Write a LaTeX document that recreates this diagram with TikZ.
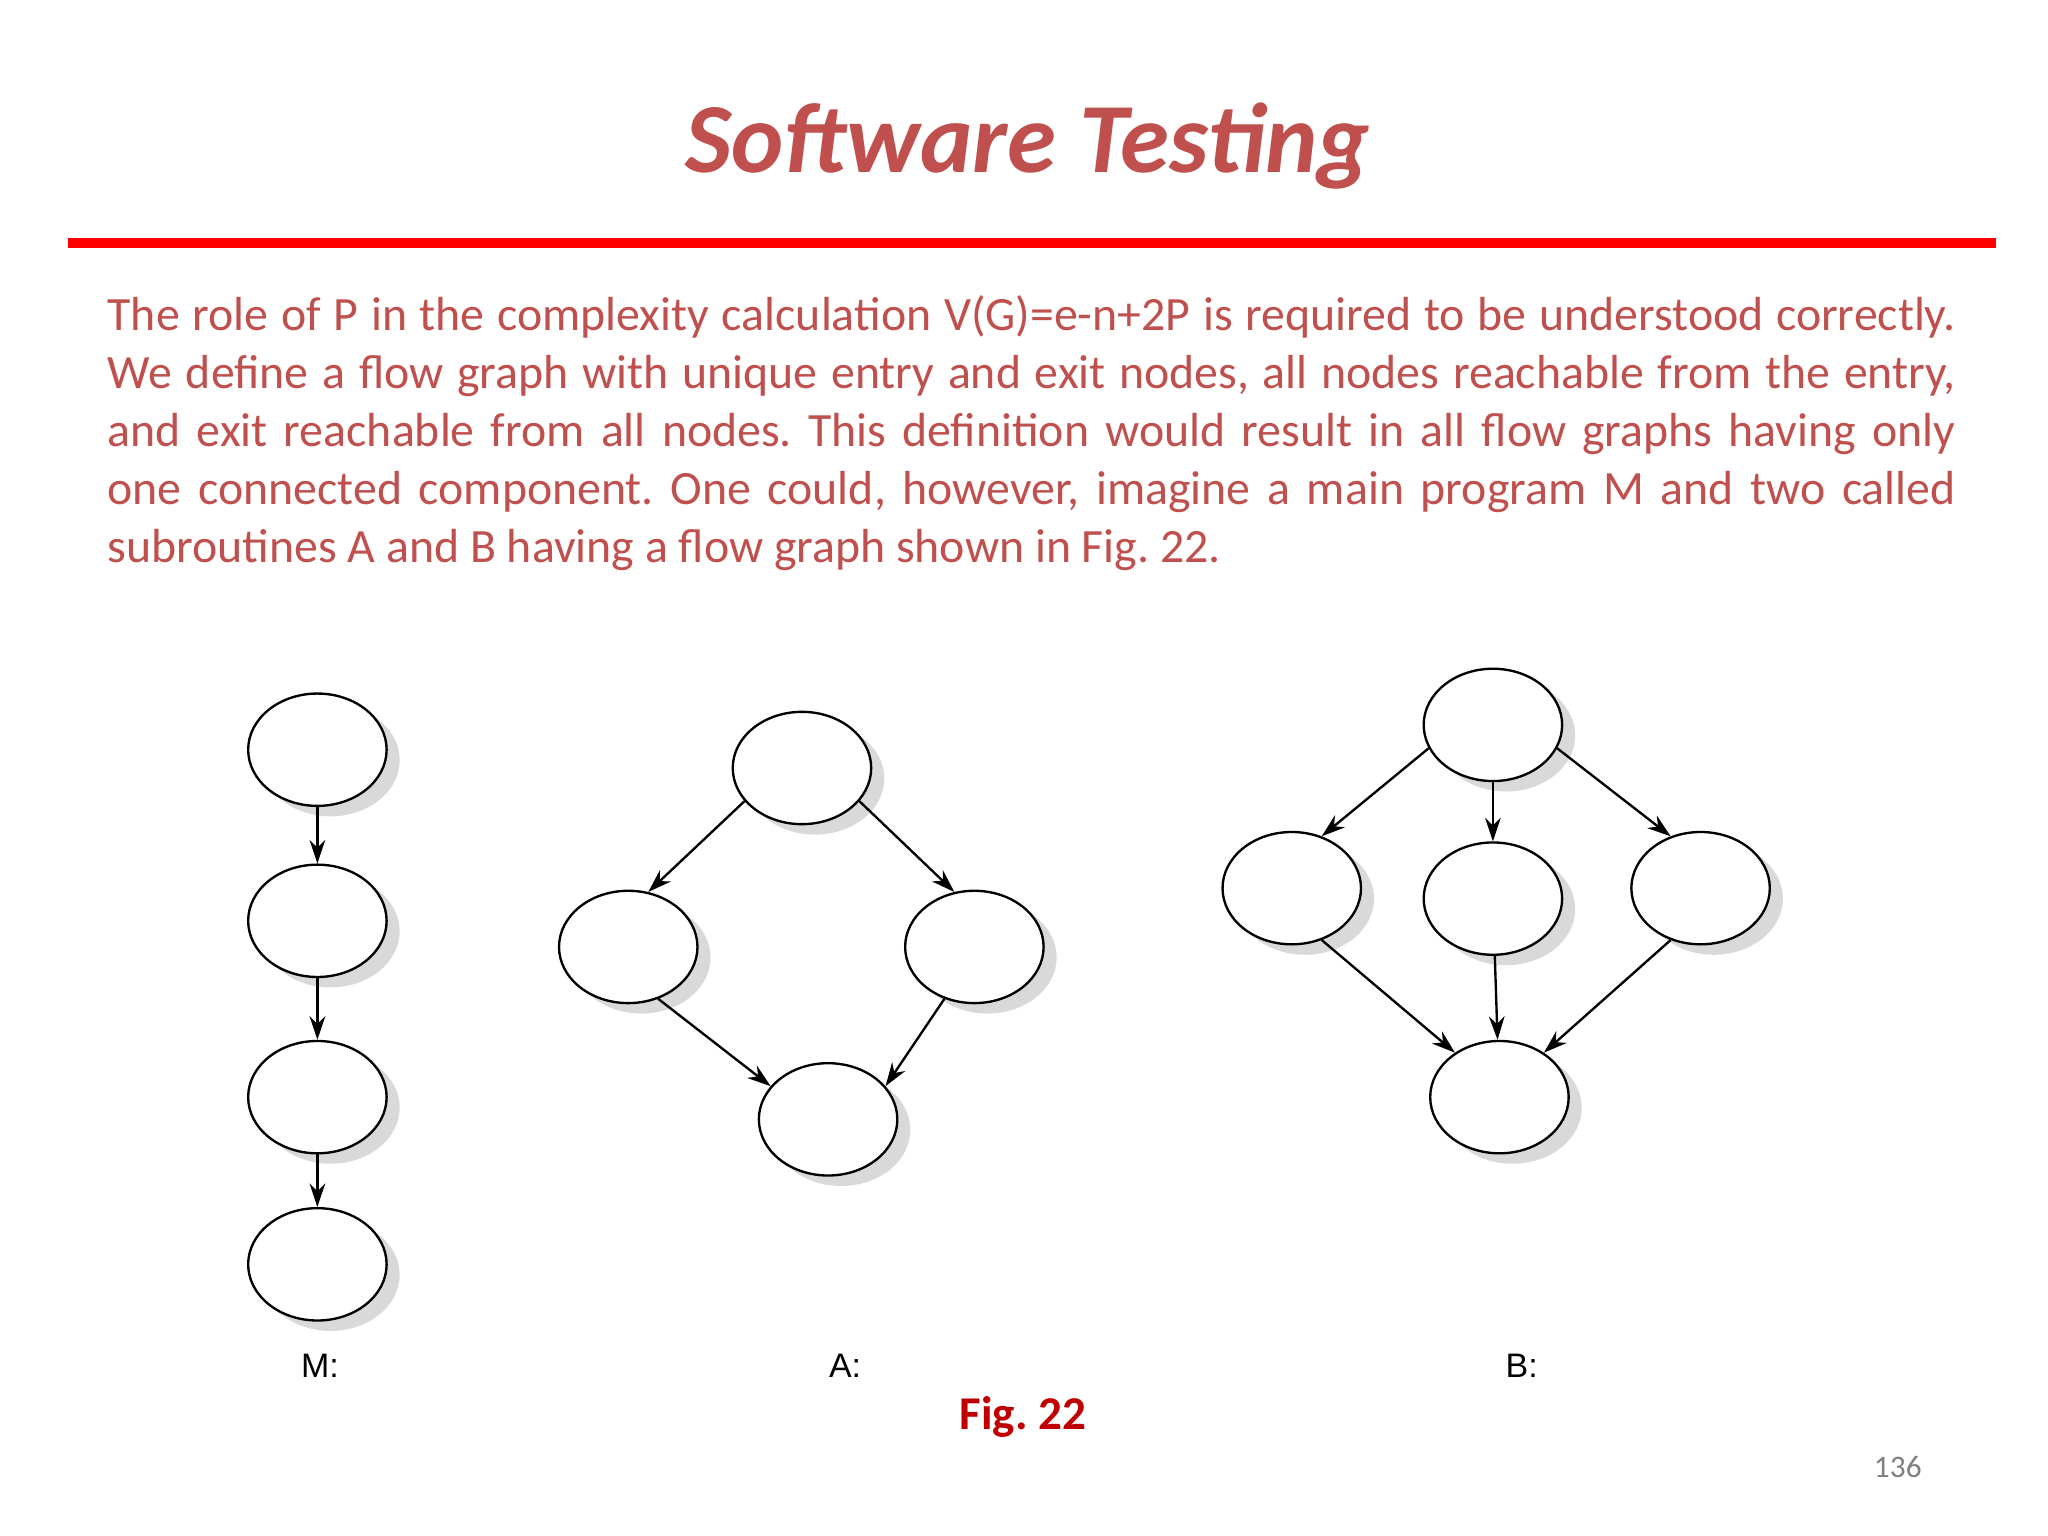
\documentclass[tikz,border=0pt]{standalone}
\usepackage{fontspec}
\setmainfont{Carlito}
\newfontfamily\helv{Liberation Sans}
\usetikzlibrary{arrows.meta,shadows,shapes.geometric}
\definecolor{txtred}{HTML}{C0504D}
\definecolor{figred}{HTML}{C00000}
\tikzset{
 gnode/.style={ellipse,draw=black,line width=0.9pt,fill=white,minimum width=53pt,minimum height=43pt,inner sep=0pt,
   drop shadow={shadow xshift=5pt,shadow yshift=-4pt,fill=gray!30,opacity=1}},
 garr/.style={-{Stealth[length=9pt,width=6pt]},line width=0.9pt},
 glabel/.style={font=\helv\fontsize{13}{15}\selectfont}
}
\frenchspacing
\begin{document}
\begin{tikzpicture}[x=0.5pt,y=-0.5pt]
\useasboundingbox[fill=white] (0,0) rectangle (1568,1176);
\node[text=txtred,font=\bfseries\itshape\fontsize{38}{42}\selectfont] (title) at (787,112) {Software Testing};
\fill[red] (52,182) rectangle (1528,190);
\node[anchor=north west,inner sep=0pt,text width=707.5pt,align=justify,text=txtred,font=\fontsize{18.3}{22.2}\selectfont] (para) at (82,226)
{The role of P in the complexity calculation V(G)=e-n+2P is required to be understood correctly.\linebreak
We define a flow graph with unique entry and exit nodes, all nodes reachable from the entry,\linebreak
and exit reachable from all nodes. This definition would result in all flow graphs having only\linebreak
one connected component. One could, however, imagine a main program M and two called\linebreak
subroutines A and B having a flow graph shown in Fig. 22.};
% M
\node[gnode] (m1) at (243,574) {};
\node[gnode] (m2) at (243,705) {};
\node[gnode] (m3) at (243,840) {};
\node[gnode] (m4) at (243,968) {};
\draw[garr] (m1) -- (m2);
\draw[garr] (m2) -- (m3);
\draw[garr] (m3) -- (m4);
% A
\node[gnode] (a1) at (614,588) {};
\node[gnode] (a2) at (481,725) {};
\node[gnode] (a3) at (746,725) {};
\node[gnode] (a4) at (634,857) {};
\draw[garr] (a1.-150) -- (a2.70);
\draw[garr] (a1.-30) -- (a3.110);
\draw[garr] (a2.-60) -- (a4.150);
\draw[garr] (a3.-120) -- (a4.30);
% B
\node[gnode] (b1) at (1143,555) {};
\node[gnode] (b2) at (989,680) {};
\node[gnode] (b3) at (1143,688) {};
\node[gnode] (b4) at (1302,680) {};
\node[gnode] (b5) at (1148,840) {};
\draw[garr] (b1.-160) -- (b2.60);
\draw[garr] (b1) -- (b3);
\draw[garr] (b1.-20) -- (b4.120);
\draw[garr] (b2.-60) -- (b5.135);
\draw[garr] (b3) -- (b5);
\draw[garr] (b4.-120) -- (b5.45);
\node[glabel] (lm) at (245,1046) {M:};
\node[glabel] (la) at (647,1046) {A:};
\node[glabel] (lb) at (1165,1046) {B:};
\node[text=figred,font=\bfseries\fontsize{18}{20}\selectfont] (fig) at (783,1085) {Fig. 22};
\node[text=gray,font=\fontsize{12}{14}\selectfont] (pg) at (1453,1123) {136};
\end{tikzpicture}
\end{document}
